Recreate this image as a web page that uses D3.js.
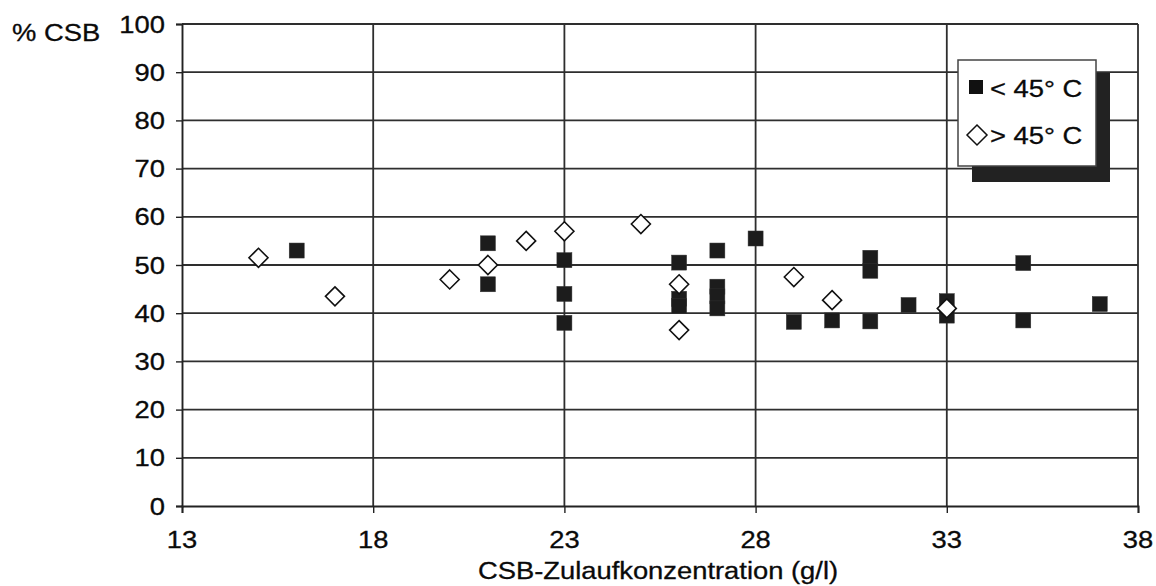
<!DOCTYPE html>
<html><head><meta charset="utf-8">
<script src="https://cdn.jsdelivr.net/npm/d3@7"></script>
<style>body{margin:0;background:#fff}svg{display:block}text{font-family:Arial,"Liberation Sans",sans-serif;fill:#0a0a0a}</style>
</head><body>
<svg id="c" width="1156" height="586"></svg>
<script>
const xTicks = [13, 18, 23, 28, 33, 38];
const yTicks = [0, 10, 20, 30, 40, 50, 60, 70, 80, 90, 100];
const seriesNames = ["< 45° C", "> 45° C"];
const lowX = [16, 21, 21, 23, 23, 23, 26, 26, 26, 27, 27, 27, 27, 28, 29, 30, 31, 31, 31, 32, 33, 33, 35, 35, 37];
const lowY = [53, 54.5, 46, 51, 44, 38, 50.5, 43, 41.5, 53, 45.5, 43.5, 41, 55.5, 38.2, 38.5, 51.5, 48.8, 38.3, 41.7, 42.5, 39.5, 50.4, 38.5, 41.9];
const highX = [15, 17, 20, 21, 22, 23, 25, 26, 26, 29, 30, 33];
const highY = [51.5, 43.5, 47, 50, 55, 57, 58.5, 46, 36.5, 47.5, 42.7, 41];

const svg = d3.select("#c");
const L = 182, R = 1138, T = 24, B = 506;
const x = d3.scaleLinear().domain([13, 38]).range([L, R]);
const y = d3.scaleLinear().domain([0, 100]).range([B, T]);
const gridColor = "#2e2e2e";
const SX = 1.14; // horizontal stretch of the scanned lettering

function stretchedText(g, tx, ty, str, size, anchor) {
  return g.append("text")
    .attr("transform", `translate(${tx},${ty}) scale(${SX},1)`)
    .attr("text-anchor", anchor || "start")
    .attr("font-size", size)
    .attr("stroke", "#0a0a0a").attr("stroke-width", 0.3)
    .text(str);
}

// horizontal grid
svg.append("g").selectAll("line").data(yTicks.filter(d => d > 0)).join("line")
  .attr("x1", L).attr("x2", R).attr("y1", d => y(d)).attr("y2", d => y(d))
  .attr("stroke", gridColor).attr("stroke-width", 1.8);
// vertical grid
svg.append("g").selectAll("line").data(xTicks.filter(d => d > 13)).join("line")
  .attr("x1", d => x(d)).attr("x2", d => x(d)).attr("y1", T).attr("y2", B)
  .attr("stroke", gridColor).attr("stroke-width", 1.8);

// axes (lines and ticks)
const gx = svg.append("g").attr("transform", `translate(0,${B})`)
  .call(d3.axisBottom(x).tickValues(xTicks).tickSize(7).tickFormat(""));
gx.select(".domain").attr("stroke", "#222").attr("stroke-width", 1.9);
gx.selectAll(".tick line").attr("stroke", "#222").attr("stroke-width", 1.4);
const gy = svg.append("g").attr("transform", `translate(${L},0)`)
  .call(d3.axisLeft(y).tickValues(yTicks).tickSize(6).tickFormat(""));
gy.select(".domain").attr("stroke", "#222").attr("stroke-width", 1.9);
gy.selectAll(".tick line").attr("stroke", "#222").attr("stroke-width", 1.4);

// tick labels
const labels = svg.append("g");
xTicks.forEach(t => stretchedText(labels, x(t), 548, d3.format("d")(t), 24, "middle"));
yTicks.forEach(t => stretchedText(labels, L - 17, y(t) + 8.5, String(t), 24, "end"));

// axis titles
stretchedText(svg, 12, 41, "% CSB", 24, "start");
stretchedText(svg, 658, 579, "CSB-Zulaufkonzentration (g/l)", 24, "middle");

// data: squares
const s = 15;
svg.append("g").selectAll("rect").data(lowX.map((d, i) => [d, lowY[i]])).join("rect")
  .attr("x", d => x(d[0]) - s / 2).attr("y", d => y(d[1]) - s / 2)
  .attr("width", s).attr("height", s).attr("fill", "#1c1c1c").attr("stroke", "#333").attr("stroke-width", 0.5);

// data: diamonds
const h = 9.5;
const diamond = (cx, cy) => `M${cx},${cy - h}L${cx + h},${cy}L${cx},${cy + h}L${cx - h},${cy}Z`;
svg.append("g").selectAll("path").data(highX.map((d, i) => [d, highY[i]])).join("path")
  .attr("d", d => diamond(x(d[0]), y(d[1])))
  .attr("fill", "#fff").attr("stroke", "#111").attr("stroke-width", 1.6);

// legend
const lg = svg.append("g");
lg.append("rect").attr("x", 972).attr("y", 73).attr("width", 138).attr("height", 109).attr("fill", "#222");
lg.append("rect").attr("x", 958).attr("y", 60).attr("width", 138).attr("height", 106)
  .attr("fill", "#fff").attr("stroke", "#444").attr("stroke-width", 1.5);
lg.append("rect").attr("x", 969).attr("y", 80).attr("width", 14).attr("height", 14).attr("fill", "#111");
lg.append("path").attr("d", `M977,125L987,135L977,145L967,135Z`).attr("fill", "#fff").attr("stroke", "#111").attr("stroke-width", 1.5);
stretchedText(lg, 990, 97, seriesNames[0], 24, "start");
stretchedText(lg, 990, 144, seriesNames[1], 24, "start");
</script>
</body></html>
